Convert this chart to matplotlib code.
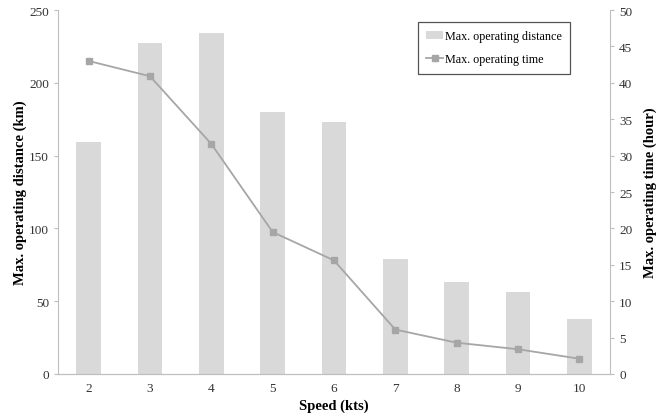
import matplotlib
matplotlib.use('Agg')
from matplotlib import pyplot as plt

speed = [2, 3, 4, 5, 6, 7, 8, 9, 10]
distance_km = [159, 227, 234, 180, 173, 79, 63, 56, 38]
time_hour = [43.0, 40.9, 31.6, 19.5, 15.6, 6.1, 4.3, 3.4, 2.1]

plt.rcParams['font.family'] = ['Liberation Serif', 'DejaVu Serif']

fig = plt.figure(figsize=(6.61, 4.14), dpi=100)
ax = fig.add_axes([58 / 661, 1 - 375 / 414, (610 - 58) / 661, (375 - 11) / 414])
ax2 = ax.twinx()

bars = ax.bar(speed, distance_km, width=0.4, color='#d9d9d9', label='Max. operating distance', zorder=1)
line, = ax2.plot(speed, time_hour, color='#a6a6a6', marker='s', markersize=5, linewidth=1.3,
                 label='Max. operating time')

ax.set_xlim(1.5, 10.5)
ax.set_ylim(0, 250)
ax2.set_ylim(0, 50)
ax.set_xticks(speed)
ax.set_yticks(range(0, 251, 50))
ax2.set_yticks(range(0, 51, 5))

for a in (ax, ax2):
    for s in a.spines.values():
        s.set_color('#bfbfbf')
    a.spines['top'].set_visible(False)
    a.tick_params(labelsize=9.5, colors='#333333', length=3, width=0.8)
    a.tick_params(axis='y', color='#bfbfbf')
ax.spines['right'].set_visible(False)
ax2.spines['left'].set_visible(False)
ax.tick_params(axis='x', length=0, pad=6)

ax.set_xlabel('Speed (kts)', fontsize=10.5, fontweight='bold', labelpad=3)
ax.set_ylabel('Max. operating distance (km)', fontsize=10.5, fontweight='bold', labelpad=1.5)
ax2.set_ylabel('Max. operating time (hour)', fontsize=10.5, fontweight='bold', labelpad=8)

leg = ax2.legend([bars, line], ['Max. operating distance', 'Max. operating time'],
                 loc='upper left', bbox_to_anchor=((418 - 58) / 552, (375 - 23) / 364),
                 borderaxespad=0, fontsize=8.7, fancybox=False, framealpha=1, edgecolor='#555555',
                 handlelength=1.4, handletextpad=0.1, borderpad=0.7, labelspacing=0.9)
leg.get_frame().set_linewidth(0.9)

fig.savefig('out.png', dpi=100)
